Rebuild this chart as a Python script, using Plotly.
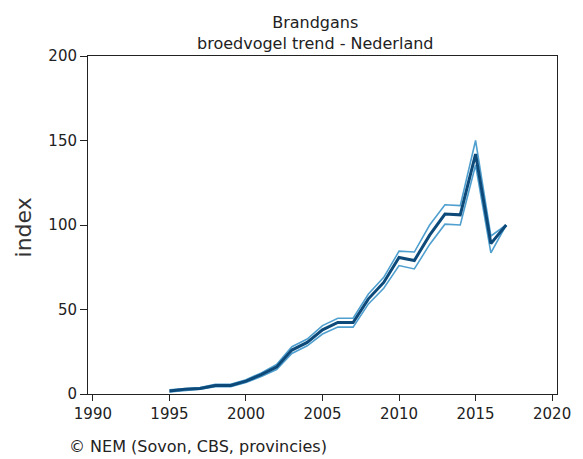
import plotly.graph_objects as go

years = list(range(1995, 2018))
index_mid = [1.8, 2.8, 3.3, 5.0, 5.0, 7.6, 11.5, 16.0, 26.0, 30.5, 38.0, 42.3, 42.3,
             56.3, 66.0, 80.8, 79.0, 94.0, 106.5, 106.0, 142.0, 89.0, 100.0]
index_upper = [2.5, 3.3, 3.8, 5.7, 5.7, 8.5, 12.5, 17.5, 28.0, 32.5, 40.5, 44.8, 44.8,
               59.2, 69.0, 84.5, 84.0, 100.0, 112.0, 111.5, 150.0, 93.5, 100.0]
index_lower = [1.2, 2.2, 2.8, 4.3, 4.3, 6.8, 10.3, 14.5, 24.0, 28.5, 35.5, 39.6, 39.6,
               53.3, 62.6, 76.0, 74.0, 88.5, 100.5, 100.0, 135.5, 83.5, 100.0]

x_ticks = [1990, 1995, 2000, 2005, 2010, 2015, 2020]
y_ticks = [0, 50, 100, 150, 200]

title_text = "Brandgans<br>broedvogel trend - Nederland"
y_title = "index"
credit = "© NEM (Sovon, CBS, provincies)"

FONT = "DejaVu Sans, Verdana, sans-serif"
INK = "#222222"

fig = go.Figure()
for ys in (index_upper, index_lower):
    fig.add_trace(go.Scatter(x=years, y=ys, mode="lines",
                             line=dict(color="#4f9fcf", width=1.6),
                             hoverinfo="skip", showlegend=False))
fig.add_trace(go.Scatter(x=years, y=index_mid, mode="lines",
                         line=dict(color="#0d4a7a", width=3),
                         showlegend=False))

axis_common = dict(ticks="outside", tickcolor=INK, tickwidth=1,
                   showline=True, linecolor=INK, linewidth=1, mirror=True,
                   showgrid=False, zeroline=False,
                   tickfont=dict(family=FONT, size=15, color=INK))

fig.update_layout(
    width=583, height=459,
    margin=dict(l=88, r=23, t=56, b=65),
    paper_bgcolor="white", plot_bgcolor="white",
    font=dict(family=FONT, size=15, color=INK),
    showlegend=False,
    xaxis=dict(range=[1989.68, 2020.32], tickvals=x_ticks, ticklen=6, **axis_common),
    yaxis=dict(range=[0, 200], tickvals=y_ticks, ticklen=7, **axis_common),
    annotations=[
        dict(text=title_text, xref="paper", yref="paper", x=0.484, y=1.068,
             xanchor="center", yanchor="middle", showarrow=False,
             font=dict(family=FONT, size=16, color=INK)),
        dict(text=y_title, xref="paper", yref="paper", x=-0.1377, y=0.494,
             xanchor="center", yanchor="middle", textangle=-90, showarrow=False,
             font=dict(family=FONT, size=22, color="#333333")),
        dict(text=credit, xref="paper", yref="paper", x=-0.0445, y=-0.189,
             xanchor="left", yanchor="bottom", showarrow=False,
             font=dict(family=FONT, size=16, color=INK)),
    ],
)

fig.write_html("out.html", config={"displayModeBar": False},
               post_script="document.body.style.margin='0px';document.body.style.overflow='hidden';")
